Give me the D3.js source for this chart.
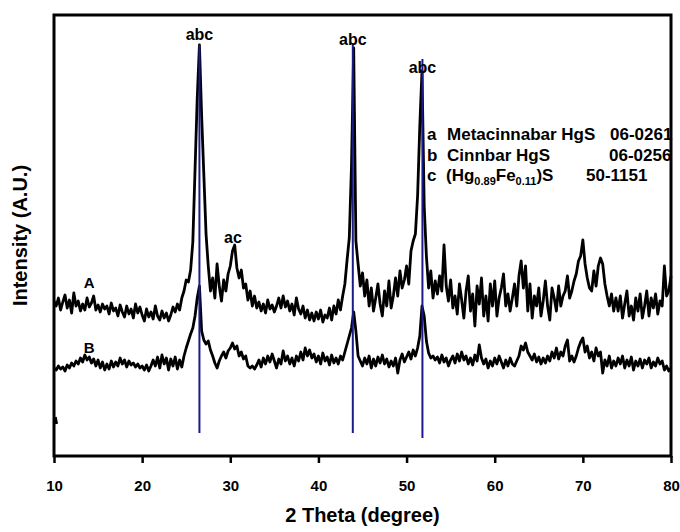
<!DOCTYPE html>
<html>
<head>
<meta charset="utf-8">
<script src="https://cdn.jsdelivr.net/npm/d3@7"></script>
<style>
  body { margin: 0; background: #fff; }
  text { font-family: Arial, "Liberation Sans", sans-serif; font-weight: bold; fill: #000; }
</style>
</head>
<body>
<div id="chart"></div>
<script>
// 2 theta grid of the scans
const thetaStart = 10;
const thetaStep = 0.25;

// sample A, intensity (a.u.), one group per degree
const scanA = [
  155,150,158,146, 154,161,148,156, 143,163,150,155, 145,152,146,158, 149,153,160,146,
  151,144,152,147, 150,142,153,145, 148,140,151,144, 139,150,142,147, 138,152,143,149,
  141,135,147,139, 144,137,150,140, 136,145,138,143, 135,141,149,144, 152,146,158,165,
  176,174,186,214, 286,358,411,340, 281,222,190,165, 178,158,192,170, 155,176,165,182,
  190,205,211,188, 178,186,168,172, 156,165,150,160, 148,154,145,152, 143,156,147,151,
  144,150,158,148, 160,149,155,145, 152,141,158,147, 142,150,138,146, 136,143,135,144,
  137,146,134,141, 138,148,136,150, 142,156,146,160, 172,196,218,290, 408,215,192,170,
  183,160,176,150, 168,145,158,172, 152,140,165,150, 175,148,160,178, 160,185,168,176,
  190,172,205,215, 222,260,330,385, 250,200,168,185, 158,175,162,180, 165,211,170,155,
  176,148,160,142, 172,156,138,165, 180,145,162,130, 170,152,178,140, 160,135,172,150,
  175,140,158,168, 182,150,162,145, 158,172,150,180, 195,168,190,145, 172,138,160,150,
  168,140,155,175, 150,136,168,158, 145,170,150,160, 165,180,158,165, 175,182,195,200,
  216,192,178,168, 165,185,170,190, 198,192,172,160, 150,162,145,158, 145,160,138,152,
  165,140,150,136, 158,145,162,138, 150,165,140,158, 148,162,142,155, 150,190,160,165,
  180
];

// sample B
const scanB = [
  88,86,90,87, 89,85,91,88, 93,90,95,92, 98,94,101,96, 99,93,97,90,
  96,88,94,86, 92,87,95,89, 94,90,98,92, 96,89,95,91, 93,89,92,88,
  90,86,91,85, 90,96,90,99, 88,101,92,98, 86,97,90,99, 87,96,89,100,
  108,115,122,128, 140,158,170,125, 116,112,115,106, 100,93,88,95, 100,104,98,105,
  108,113,107,110, 100,104,97,100, 90,88,90,87, 91,96,89,98, 92,100,94,102,
  95,88,97,92, 105,95,100,92, 98,90,100,95, 104,96,108,100, 106,98,102,94,
  100,92,103,95, 99,91,101,93, 98,92,100,96, 104,112,120,128, 144,125,100,95,
  90,98,92,100, 88,97,90,99, 93,101,92,97, 89,95,90,98, 83,96,102,94,
  99,104,97,106, 100,108,120,150, 140,115,103,98, 100,96,99,93, 101,94,98,90,
  96,100,93,102, 95,104,96,100, 92,98,91,101, 95,111,98,92, 97,88,95,90,
  98,92,100,94, 88,96,90,98, 92,90,95,100, 110,106,113,104, 100,96,102,94,
  99,92,98,93, 100,95,104,98, 108,97,104,100, 110,116,95,100, 94,100,108,114,
  118,104,110,98, 104,95,108,100, 104,83,96,90, 100,88,95,90, 98,92,100,88,
  96,90,99,86, 95,90,97,88, 96,92,98,88, 94,90,98,92, 95,86,90,85,
  88
];

// short stray trace at the left edge
const stubTheta = [10.15, 10.3];
const stubInt = [39, 32];

// reference peak lines
const refTheta = [26.5, 43.9, 51.8];
const refTop = [411, 413, 397];
const refBottom = [23, 23, 18];

// peak annotations
const peakTheta = [26.5, 43.9, 51.8, 30.3];
const peakInt = [416, 411, 383, 213];
const peakText = ["abc", "abc", "abc", "ac"];

// sample names
const sampleTheta = [14.0, 14.0];
const sampleInt = [168, 103];
const sampleNames = ["A", "B"];

const xTicks = [10, 20, 30, 40, 50, 60, 70, 80];

const width = 680, height = 532;
const margin = { top: 15, right: 9, bottom: 76, left: 54 };
const w = width - margin.left - margin.right;
const h = height - margin.top - margin.bottom;

const svg = d3.select("#chart").append("svg")
  .attr("width", width)
  .attr("height", height);

const g = svg.append("g")
  .attr("transform", `translate(${margin.left},${margin.top})`);

const x = d3.scaleLinear().domain([10, 80]).range([0, w]);
const y = d3.scaleLinear().domain([0, 441]).range([h, 0]);

const toPoints = arr => arr.map((v, i) => [thetaStart + i * thetaStep, v]);

const line = d3.line()
  .x(d => x(d[0]))
  .y(d => y(d[1]));

[scanA, scanB].forEach(s => {
  g.append("path")
    .datum(toPoints(s))
    .attr("d", line)
    .attr("fill", "none")
    .attr("stroke", "#000")
    .attr("stroke-width", 2.8)
    .attr("stroke-linejoin", "round");
});

g.append("path")
  .datum(stubTheta.map((t, i) => [t, stubInt[i]]))
  .attr("d", line)
  .attr("fill", "none")
  .attr("stroke", "#000")
  .attr("stroke-width", 2.8);

// reference lines, drawn over the curves
g.selectAll(".ref")
  .data(refTheta)
  .enter().append("line")
  .attr("class", "ref")
  .attr("x1", d => x(d)).attr("x2", d => x(d))
  .attr("y1", (d, i) => y(refTop[i]))
  .attr("y2", (d, i) => y(refBottom[i]))
  .attr("stroke", "#1a1a8c")
  .attr("stroke-width", 2);

g.selectAll(".peak")
  .data(peakText)
  .enter().append("text")
  .attr("class", "peak")
  .attr("x", (d, i) => x(peakTheta[i]))
  .attr("y", (d, i) => y(peakInt[i]))
  .attr("text-anchor", "middle")
  .style("font-size", "16px")
  .text(d => d);

g.selectAll(".sample")
  .data(sampleNames)
  .enter().append("text")
  .attr("class", "sample")
  .attr("x", (d, i) => x(sampleTheta[i]))
  .attr("y", (d, i) => y(sampleInt[i]))
  .attr("text-anchor", "middle")
  .style("font-size", "15px")
  .text(d => d);

// legend
const legend = g.append("text")
  .attr("transform", `translate(${x(52.32)},${y(316)})`)
  .style("font-size", "17px");

legend.append("tspan").attr("x", 0).attr("y", 0).text("a");
legend.append("tspan").attr("x", 20).attr("y", 0).text("Metacinnabar HgS");
legend.append("tspan").attr("x", 183).attr("y", 0).text("06-0261");

legend.append("tspan").attr("x", 0).attr("y", 20.5).text("b");
legend.append("tspan").attr("x", 20).attr("y", 20.5).text("Cinnbar HgS");
legend.append("tspan").attr("x", 182).attr("y", 20.5).text("06-0256");

legend.append("tspan").attr("x", 0).attr("y", 41).text("c");
legend.append("tspan").attr("x", 19).attr("y", 41).text("(Hg");
legend.append("tspan").attr("dy", 4).style("font-size", "11px").text("0.89");
legend.append("tspan").attr("dy", -4).text("Fe");
legend.append("tspan").attr("dy", 4).style("font-size", "11px").text("0.11");
legend.append("tspan").attr("dy", -4).text(")S");
legend.append("tspan").attr("x", 159).text("50-1151");

// frame
g.append("rect")
  .attr("width", w)
  .attr("height", h)
  .attr("fill", "none")
  .attr("stroke", "#000")
  .attr("stroke-width", 3);

// x axis
const xAxis = g.append("g")
  .attr("transform", `translate(0,${h})`)
  .call(d3.axisBottom(x).tickValues(xTicks).tickSize(7).tickPadding(17).tickFormat(d3.format("d")));
xAxis.select(".domain").remove();
xAxis.selectAll(".tick line").attr("stroke", "#000").attr("stroke-width", 2.5);
xAxis.selectAll(".tick text")
  .style("font-size", "15px")
  .style("font-family", "Arial, 'Liberation Sans', sans-serif")
  .style("font-weight", "bold");

svg.append("text")
  .attr("x", margin.left + w / 2)
  .attr("y", 522)
  .attr("text-anchor", "middle")
  .style("font-size", "20px")
  .text("2 Theta (degree)");

svg.append("text")
  .attr("transform", `translate(27,${margin.top + h / 2}) rotate(-90)`)
  .attr("text-anchor", "middle")
  .style("font-size", "20px")
  .text("Intensity (A.U.)");
</script>
</body>
</html>
